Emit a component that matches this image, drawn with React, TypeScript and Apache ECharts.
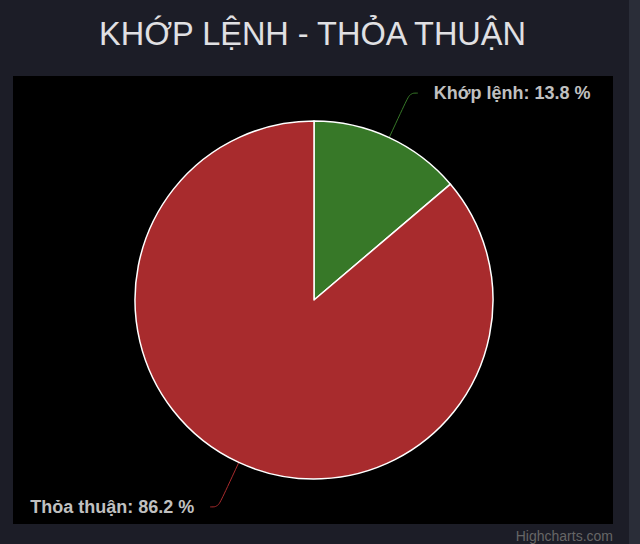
import * as echarts from 'echarts';
import { useEffect, useRef } from 'react';

const titleText = 'KHỚP LỆNH - THỎA THUẬN';
const sliceNames = ['Khớp lệnh', 'Thỏa thuận'];
const sliceValues = [13.8, 86.2];
const sliceColors = ['#377828', '#a82b2d'];

function App() {
  const chartRef = useRef<HTMLDivElement>(null);

  useEffect(() => {
    const myChart = echarts.init(chartRef.current, null, { renderer: 'svg' });

    const option = {
      animation: false,
      backgroundColor: '#1c1d27',
      title: {
        text: titleText,
        left: 94,
        top: 12,
        textStyle: {
          color: '#e0e0e3',
          fontSize: 32.5,
          fontWeight: 'normal',
          fontFamily: 'Liberation Sans, Arial, sans-serif',
        },
      },
      graphic: [
        {
          type: 'rect',
          z: -10,
          shape: { x: 629, y: 0, width: 11, height: 544 },
          style: { fill: '#2a2d38' },
        },
        {
          type: 'rect',
          z: -10,
          shape: { x: 13, y: 76, width: 600, height: 448 },
          style: { fill: '#000000' },
        },
        {
          type: 'text',
          right: 27,
          top: 529,
          style: {
            text: 'Highcharts.com',
            fill: '#666666',
            fontSize: 14,
            fontFamily: 'Liberation Sans, Arial, sans-serif',
          },
        },
      ],
      series: [
        {
          name: titleText,
          type: 'pie',
          center: [314, 300],
          radius: 179,
          startAngle: 90,
          clockwise: true,
          avoidLabelOverlap: false,
          itemStyle: {
            borderColor: '#ffffff',
            borderWidth: 1.5,
          },
          label: {
            show: true,
            position: 'outside',
            formatter: (p: any) => `${p.name}: ${p.value} %`,
            color: '#c0c0c0',
            fontSize: 18,
            fontWeight: 'bold',
            fontFamily: 'Liberation Sans, Arial, sans-serif',
            distanceToLabelLine: 16,
            padding: [4, 0, 0, 0],
          },
          labelLine: {
            show: true,
            length: 49,
            length2: 8,
            smooth: 0.4,
            lineStyle: { width: 1 },
          },
          data: sliceNames.map((name, i) => ({
            name,
            value: sliceValues[i],
            itemStyle: { color: sliceColors[i] },
          })),
        },
      ],
    };

    myChart.setOption(option);

    return () => {
      myChart.dispose();
    };
  }, []);

  return (
    <div
      ref={chartRef}
      style={{ position: 'fixed', left: 0, top: 0, width: '640px', height: '544px' }}
    ></div>
  );
}

export default App;
